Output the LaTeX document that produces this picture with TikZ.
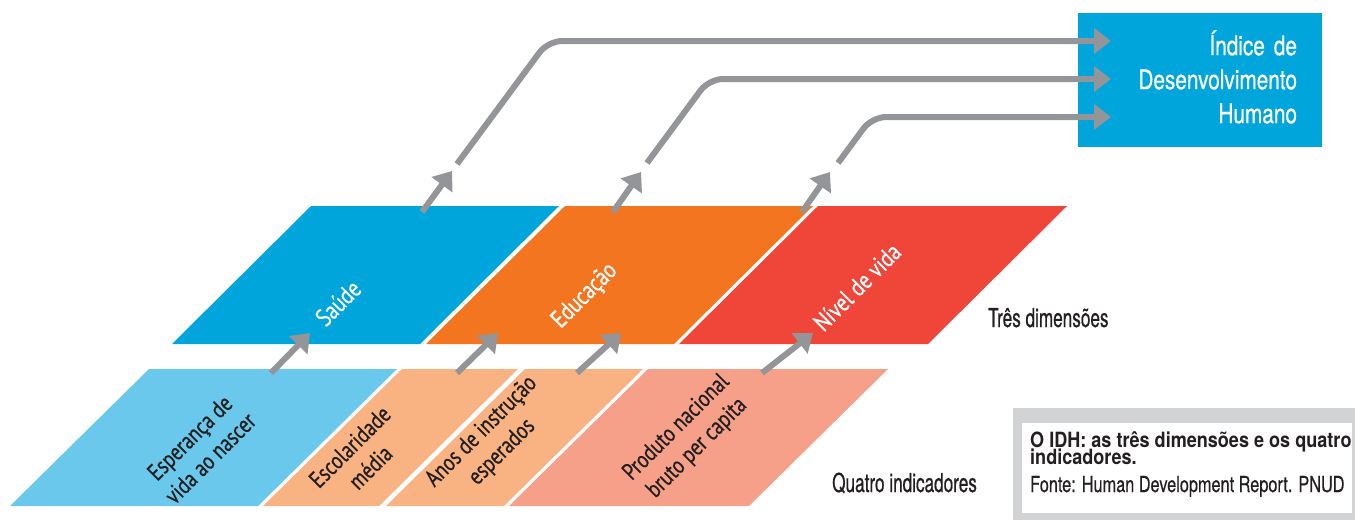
\documentclass[tikz,border=0pt]{standalone}
\usepackage{fontspec}
\usepackage{xcolor}
\usetikzlibrary{arrows.meta}
\newfontfamily\idhfont[FakeStretch=0.77,FakeBold=0.6]{TeX Gyre Heros}
\newfontfamily\tagfont[FakeStretch=0.66,FakeBold=0.6]{TeX Gyre Heros}
\newfontfamily\capfont[FakeStretch=0.86]{TeX Gyre Heros}
\newfontfamily\srcfont[FakeStretch=0.74,FakeBold=0.4]{TeX Gyre Heros}
\newfontfamily\slabfont[FakeStretch=0.8,FakeBold=0.6]{PT Sans}
\definecolor{saude}{HTML}{00A5DB}
\definecolor{educ}{HTML}{F37520}
\definecolor{nivel}{HTML}{EF4639}
\definecolor{esper}{HTML}{69C8EB}
\definecolor{escol}{HTML}{F9B383}
\definecolor{prod}{HTML}{F6A089}
\definecolor{arrowgray}{HTML}{939598}
\definecolor{ink}{HTML}{231F20}
\definecolor{capframe}{HTML}{D1D3D4}

\begin{document}
\begin{tikzpicture}[x=1pt,y=-1pt,
  flow/.style={draw=arrowgray,line width=6pt},
  tip/.style={-{Triangle[length=17pt,width=25pt]}},
  link/.style={flow,rounded corners=14pt},
  dimlabel/.style={text=white,rotate=45,inner sep=0pt,font=\slabfont\fontsize{25}{29}\selectfont},
  indlabel/.style={text=ink,rotate=45,inner sep=0pt,align=center,font=\slabfont\fontsize{24}{29}\selectfont},
  tag/.style={text=ink,anchor=base west,inner sep=0pt,font=\tagfont\fontsize{26}{30}\selectfont},
  idhbox/.style={fill=saude,minimum width=244pt,minimum height=134pt,inner sep=0pt},
  idhtext/.style={text=white,text width=194pt,inner sep=0pt,align=right,font=\idhfont\fontsize{27}{34}\selectfont},
  captitle/.style={text=ink,anchor=base west,inner sep=0pt,font=\capfont\bfseries\fontsize{21}{18}\selectfont},
  capsource/.style={text=ink,anchor=base west,inner sep=0pt,font=\srcfont\fontsize{22}{27}\selectfont}
  ]
\useasboundingbox (0,0) rectangle (1355,520);
\def\slant{139}
\def\boxh{138}
% three dimensions
\foreach \x/\w/\c in {311/248/saude,565/248/educ,818/249/nivel}
  \fill[\c] (\x,206) -- ++(\w,0) -- ++(-\slant,\boxh) -- ++(-\w,0) -- cycle;
% four indicators
\foreach \x/\w/\c in {149/248/esper,402/116/escol,525/118/escol,648/240/prod}
  \fill[\c] (\x,369) -- ++(\w,0) -- ++(-\slant,137) -- ++(-\w,0) -- cycle;
% labels
\node[dimlabel] (saude) at (338,303) {Saúde};
\node[dimlabel] (educ) at (585,296) {Educação};
\node[dimlabel] (nivel) at (857,287) {Nível de vida};
\node[indlabel] (esper) at (200,448) {Esperança de\\vida ao nascer};
\node[indlabel] (escol) at (360,457) {Escolaridade\\média};
\node[indlabel] (anos) at (492,442) {Anos de instrução\\esperados};
\node[indlabel] (prod) at (687,438) {Produto nacional\\bruto per capita};
\node[tag] (tres) at (988,327) {Três dimensões};
\node[tag] (quatro) at (832,492) {Quatro indicadores};
% index box
\node[idhbox] (idh) at (1200,80) {};
\node[idhtext,anchor=east] (idh label) at ([xshift=-25pt,yshift=3pt]idh.east) {Índice de\\Desenvolvimento\\Humano};
% arrow end points
\coordinate (esper out) at (271,373);
\coordinate (saude in) at (310,333);
\coordinate (escol out) at (457,373);
\coordinate (educ in) at (498,333);
\coordinate (anos out) at (577,373);
\coordinate (educ in2) at (621,333);
\coordinate (prod out) at (762,373);
\coordinate (nivel in) at (813,333);
\coordinate (saude out) at (422,212);
\coordinate (saude up) at (452,171);
\coordinate (educ out) at (613,212);
\coordinate (educ up) at (641,172);
\coordinate (nivel out) at (802,212);
\coordinate (nivel up) at (830,172);
\coordinate (saude go) at (457,164);
\coordinate (saude bend) at (548,41);
\coordinate (idh in1) at (1111,41);
\coordinate (educ go) at (647,163);
\coordinate (educ bend) at (709,79);
\coordinate (idh in2) at (1111,79);
\coordinate (nivel go) at (838,163);
\coordinate (nivel bend) at (872,117);
\coordinate (idh in3) at (1111,117);
\draw[flow,tip] (esper out) -- (saude in);
\draw[flow,tip] (escol out) -- (educ in);
\draw[flow,tip] (anos out) -- (educ in2);
\draw[flow,tip] (prod out) -- (nivel in);
\draw[flow,tip] (saude out) -- (saude up);
\draw[flow,tip] (educ out) -- (educ up);
\draw[flow,tip] (nivel out) -- (nivel up);
\draw[link,tip] (saude go) -- (saude bend) -- (idh in1);
\draw[link,tip] (educ go) -- (educ bend) -- (idh in2);
\draw[link,tip] (nivel go) -- (nivel bend) -- (idh in3);
% caption
\fill[capframe] (1013,408) rectangle (1355,520);
\fill[white] (1022,423) rectangle (1352,513);
\node[captitle] (cap1) at (1030,447) {O IDH: as três dimensões e os quatro};
\node[captitle] (cap2) at ([yshift=-17.7pt]cap1.base west) {indicadores.};
\node[capsource] (cap3) at ([yshift=-27.3pt]cap2.base west) {Fonte: Human Development Report. PNUD};
\end{tikzpicture}
\end{document}
